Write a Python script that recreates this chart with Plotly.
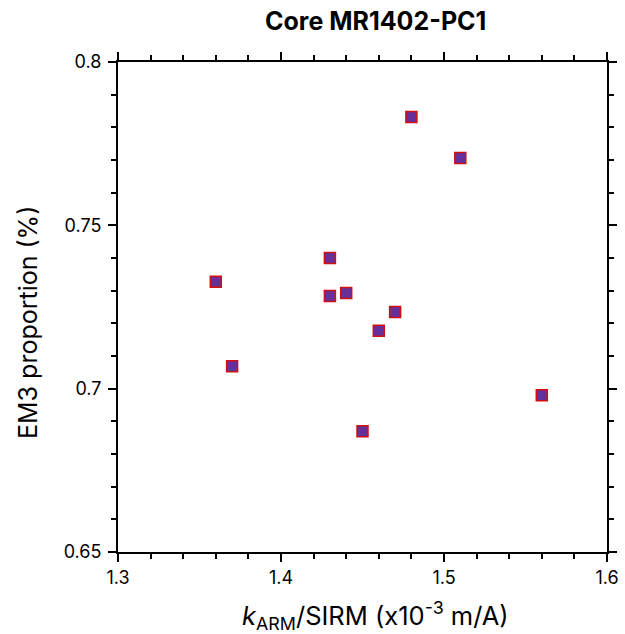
import plotly.graph_objects as go

karm_sirm = [1.36, 1.37, 1.43, 1.43, 1.44, 1.45, 1.46, 1.47, 1.48, 1.51, 1.56]
em3_prop = [0.7327, 0.7069, 0.7400, 0.7284, 0.7293, 0.6870, 0.7177, 0.7235, 0.7832, 0.7706, 0.6980]

x_ticks = [1.3, 1.4, 1.5, 1.6]
y_ticks = [0.65, 0.7, 0.75, 0.8]
y_ticklabels = ["0.65", "0.7", "0.75", "0.8"]

W, H = 625, 634
L, R, T, B = 118, 18, 62, 82
pw, ph = W - L - R, H - T - B

def px_to_paper_x(px):
    return (px - L) / pw

def px_to_paper_y(py):
    return (H - B - py) / ph

fig = go.Figure()
fig.add_trace(go.Scatter(
    x=karm_sirm, y=em3_prop, mode="markers",
    marker=dict(symbol="square", size=11, color="#66309a",
                line=dict(color="#d01010", width=1.5)),
    showlegend=False, cliponaxis=False,
))

font_family = "Inter, Liberation Sans, Arial, sans-serif"
axis_common = dict(
    showline=True, linecolor="black", linewidth=2, mirror="ticks",
    ticks="outside", ticklen=8, tickwidth=1.5, tickcolor="black",
    showgrid=False, zeroline=False, automargin=False,
    tickfont=dict(family=font_family, size=18, color="black"),
)

fig.update_layout(
    width=W, height=H,
    margin=dict(l=L, r=R, t=T, b=B, autoexpand=False),
    paper_bgcolor="white", plot_bgcolor="white",
    xaxis=dict(range=[1.3, 1.6], tickvals=x_ticks,
               ticktext=[f"{v:.1f}" for v in x_ticks],
               minor=dict(dtick=0.02, tick0=1.3, ticks="outside", ticklen=5,
                          tickwidth=1.5, tickcolor="black"),
               **axis_common),
    yaxis=dict(range=[0.65, 0.8], tickvals=y_ticks, ticktext=y_ticklabels,
               ticklabelstandoff=3,
               minor=dict(dtick=0.01, tick0=0.65, ticks="outside", ticklen=5,
                          tickwidth=1.5, tickcolor="black"),
               **axis_common),
    annotations=[
        dict(text="<b>Core MR1402-PC1</b>", xref="paper", yref="paper",
             x=px_to_paper_x(375.5), y=px_to_paper_y(21),
             xanchor="center", yanchor="middle", showarrow=False,
             font=dict(family=font_family, size=25, color="black")),
        dict(text="<i>k</i><sub>ARM</sub>/SIRM (x10<sup>-3</sup> m/A)",
             xref="paper", yref="paper",
             x=px_to_paper_x(375), y=px_to_paper_y(615),
             xanchor="center", yanchor="middle", showarrow=False,
             font=dict(family=font_family, size=25.5, color="black")),
        dict(text="EM3 proportion (%)", xref="paper", yref="paper",
             x=px_to_paper_x(28), y=px_to_paper_y(323), textangle=-90,
             xanchor="center", yanchor="middle", showarrow=False,
             font=dict(family=font_family, size=25, color="black")),
    ],
)

fig.write_html("out.html")
